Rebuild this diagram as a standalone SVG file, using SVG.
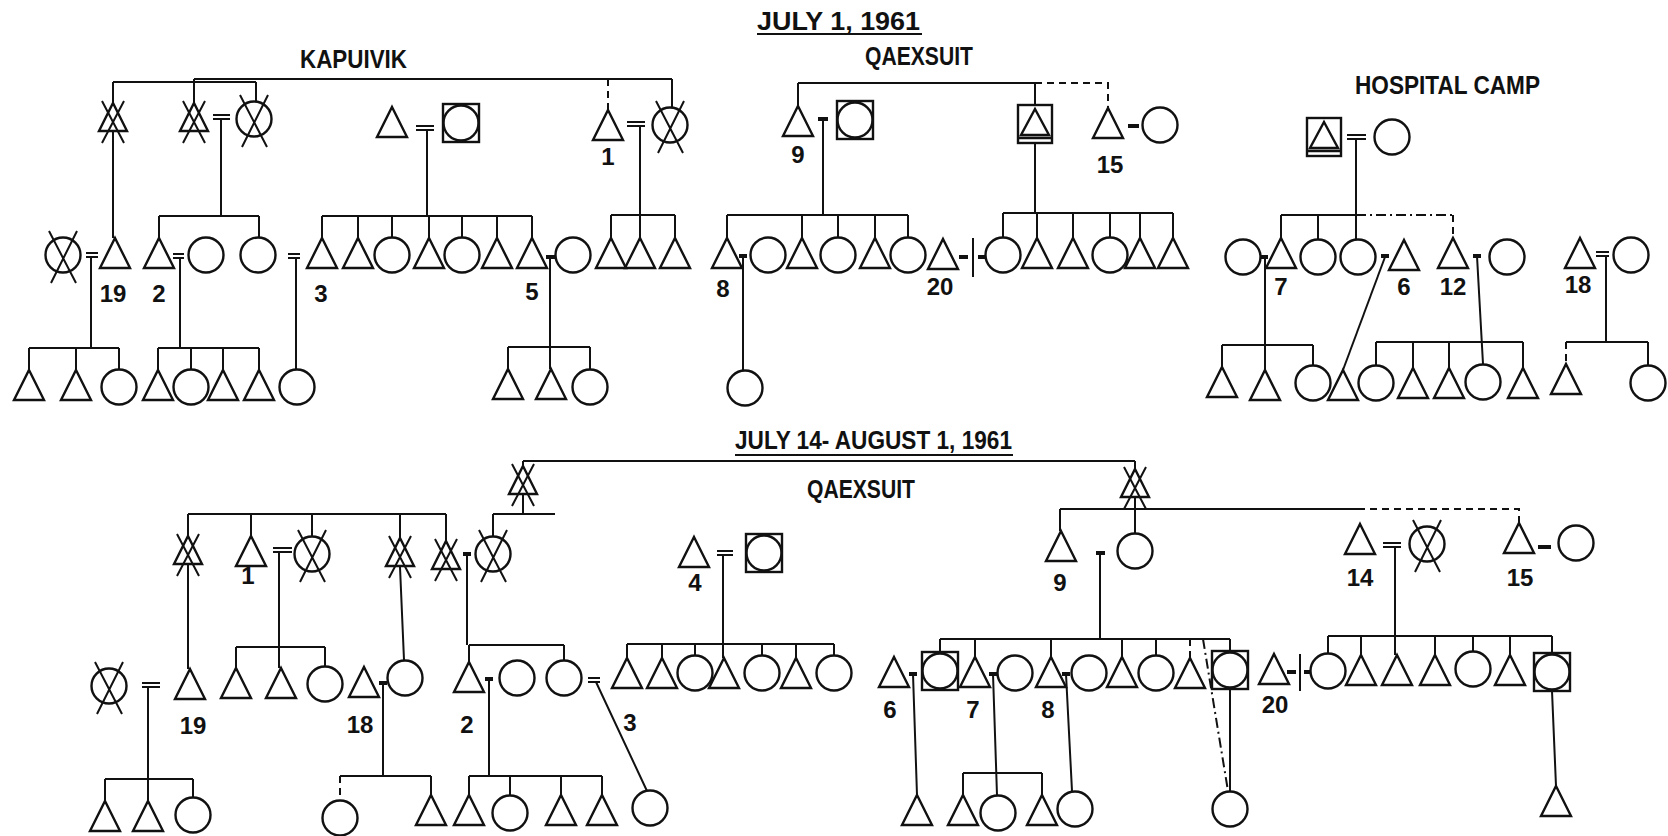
<svg xmlns="http://www.w3.org/2000/svg" width="1668" height="836" viewBox="0 0 1668 836">
<style>
.l{fill:none;stroke:#111;stroke-width:2}
.ds{stroke-dasharray:7 5}
.dd{stroke-dasharray:10 4 2 4}
.b{fill:none;stroke:#111;stroke-width:4}
.lab{font-family:"Liberation Sans",Arial,sans-serif;font-weight:bold;font-size:24px;fill:#111;text-anchor:middle}
.ttl{font-family:"Liberation Sans",Arial,sans-serif;font-weight:bold;font-size:25px;fill:#111}
</style>
<defs>
<g id="cir" fill="none" stroke="#111" stroke-width="2.4"><circle r="17.5"/></g>
<g id="xcir" fill="none" stroke="#111" stroke-width="2.4"><circle r="17.5"/><path stroke-width="2" d="M-14,-24 L13,28 M14,-24 L-12,28"/></g>
<g id="sqc" fill="none" stroke="#111" stroke-width="2.4"><rect x="-18" y="-19" width="36" height="38"/><circle r="17.5"/></g>
<g id="sqt" fill="none" stroke="#111" stroke-width="2.4"><rect x="-17" y="-19" width="34" height="38"/><path d="M0,-15 L14,11 L-14,11 Z M-17,14 H17"/></g>
<g id="tri" fill="none" stroke="#111" stroke-width="2.4"><path d="M0,0 L15,30 L-15,30 Z"/></g>
<g id="xtri" fill="none" stroke="#111" stroke-width="2.4"><path d="M0,0 L14,28 L-14,28 Z"/><path stroke-width="2" d="M-11,-2 L11,40 M11,-2 L-11,40"/></g>
</defs>
<rect width="1668" height="836" fill="#fff"/>

<g id="titles">
<text class="ttl" x="757" y="30" font-size="27" textLength="163" lengthAdjust="spacingAndGlyphs">JULY  1,  1961</text>
<path class="l" stroke-width="2.5" d="M757,34 H922"/>
<text class="ttl" x="300" y="68" textLength="107" lengthAdjust="spacingAndGlyphs">KAPUIVIK</text>
<text class="ttl" x="865" y="65" textLength="108" lengthAdjust="spacingAndGlyphs">QAEXSUIT</text>
<text class="ttl" x="1355" y="94" textLength="185" lengthAdjust="spacingAndGlyphs">HOSPITAL  CAMP</text>
<text class="ttl" x="735" y="449" textLength="277" lengthAdjust="spacingAndGlyphs">JULY  14- AUGUST  1,  1961</text>
<path class="l" stroke-width="2.5" d="M735,455 H1013"/>
<text class="ttl" x="807" y="498" textLength="108" lengthAdjust="spacingAndGlyphs">QAEXSUIT</text>
</g>

<g id="connectors">
<!-- TOP: Kapuivik -->
<path class="l" d="M194,79 H672 M194,79 V103 M113,82 H256 M113,82 V103 M256,82 V101 M672,79 V107 M113,131 V238"/>
<path class="l ds" d="M608,79 V110"/>
<path class="l" d="M213,115 H230 M213,119 H230 M221,119 V216"/>
<path class="l" d="M159,216 H259 M159,216 V238 M259,216 V237"/>
<path class="l" d="M416,126 H434 M416,130 H434 M427,130 V216"/>
<path class="l" d="M322,216 H532 M322,216 V238 M358,216 V238 M392,216 V237 M429,216 V238 M462,216 V237 M497,216 V238 M532,216 V238"/>
<path class="l" d="M627,122 H645 M627,126 H645 M640,126 V238 M611,215 H675 M611,215 V238 M675,215 V238"/>
<path class="l" d="M86,253 H98 M86,257 H98 M91,257 V348 M29,348 H119 M29,348 V370 M76,348 V370 M119,348 V369"/>
<path class="l" d="M173,254 H184 M173,258 H184 M180,258 V348 M158,348 H259 M158,348 V370 M191,348 V369 M223,348 V370 M259,348 V370"/>
<path class="l" d="M288,254 H300 M288,258 H300 M296,258 V369"/>
<path class="b" d="M546,257 H555"/>
<path class="l" d="M550,257 V369 M508,347 H590 M508,347 V369 M590,347 V369"/>
<!-- TOP: Qaexsuit -->
<path class="l" d="M798,83 H1035 M798,83 V106 M1035,83 V105 M1035,143 V213"/>
<path class="l ds" d="M1035,83 H1108 V108"/>
<path class="b" d="M818,119 H828"/>
<path class="l" d="M823,119 V215 M727,215 H908 M727,215 V238 M802,215 V238 M838,215 V237 M875,215 V238 M908,215 V237"/>
<path class="b" d="M739,256 H747"/>
<path class="l" d="M743,256 V370"/>
<path class="b" d="M1128,126 H1139"/>
<path class="b" d="M959,257 H968 M978,257 H986"/>
<path class="l" d="M973,238 V277"/>
<path class="l" d="M1003,213 H1173 M1003,213 V237 M1037,213 V238 M1073,213 V238 M1110,213 V237 M1140,213 V238 M1173,213 V238"/>
<!-- TOP: Hospital camp -->
<path class="l" d="M1347,135 H1366 M1347,139 H1366 M1356,139 V239 M1281,215 H1356 M1281,215 V238 M1318,215 V239"/>
<path class="l dd" d="M1356,215 H1453"/>
<path class="l ds" d="M1453,215 V238"/>
<path class="b" d="M1260,257 H1268 M1381,256 H1389 M1473,256 H1481"/>
<path class="l" d="M1265,257 V370 M1222,345 H1313 M1222,345 V367 M1313,345 V365"/>
<path class="l" d="M1385,257 L1343,370"/>
<path class="l" d="M1477,256 L1483,364 M1376,342 H1523 M1376,342 V365 M1413,342 V368 M1449,342 V368 M1523,342 V368"/>
<path class="l" d="M1596,252 H1609 M1596,256 H1609 M1606,256 V342 M1566,342 H1648 M1648,342 V365"/>
<path class="l ds" d="M1566,342 V364"/>

<!-- BOTTOM -->
<path class="l" d="M523,461 H1135 M523,461 V466 M523,495 V514 M493,514 H555 M493,514 V536"/>
<path class="l" d="M188,514 H446 M188,514 V536 M251,514 V536 M312,514 V536 M400,514 V538 M446,514 V541"/>
<path class="l" d="M273,548 H292 M273,552 H292 M279,552 V668 M236,647 H325 M236,647 V668 M325,647 V666"/>
<path class="l" d="M188,565 V669 M400,567 L404,660"/>
<path class="b" d="M463,554 H471"/>
<path class="l" d="M467,554 V645 M469,645 H564 M469,645 V662 M564,645 V660"/>
<path class="l" d="M142,683 H160 M142,687 H160 M148,687 V801 M105,779 H193 M105,779 V801 M193,779 V797"/>
<path class="b" d="M379,683 H387 M485,679 H493"/>
<path class="l" d="M383,683 V776 M340,776 H431 M431,776 V795"/>
<path class="l ds" d="M340,776 V800"/>
<path class="l" d="M489,679 V776 M469,776 H602 M469,776 V795 M510,776 V795 M561,776 V795 M602,776 V795"/>
<path class="l" d="M588,678 H600 M588,682 H600 M596,682 L647,791"/>
<path class="l" d="M717,551 H733 M717,555 H733 M723,555 V658 M627,644 H834 M627,644 V658 M662,644 V658 M695,644 V655 M762,644 V655 M796,644 V658 M834,644 V655"/>
<path class="l" d="M1135,461 V469 M1135,497 V533"/>
<path class="l" d="M1060,509 H1358 M1060,509 V531"/>
<path class="l ds" d="M1358,509 H1519 V523"/>
<path class="b" d="M1096,553 H1105"/>
<path class="l" d="M1100,553 V639 M940,639 H1230 M940,639 V652 M975,639 V657 M1051,639 V657 M1122,639 V657 M1156,639 V655 M1230,639 V651"/>
<path class="l ds" d="M1190,639 V658"/>
<path class="l dd" d="M1203,639 L1228,791"/>
<path class="b" d="M909,674 H917 M989,674 H997 M1062,674 H1070"/>
<path class="l" d="M913,674 L917,795 M993,674 L997,795 M963,773 H1042 M963,773 V795 M1042,773 V795 M1066,674 L1072,791 M1230,689 V791"/>
<path class="l" d="M1383,543 H1401 M1383,547 H1401 M1395,547 V655"/>
<path class="b" d="M1538,547 H1551 M1287,672 H1296 M1304,672 H1310"/>
<path class="l" d="M1300,654 V691"/>
<path class="l" d="M1328,636 H1552 M1328,636 V653 M1361,636 V655 M1435,636 V655 M1473,636 V651 M1510,636 V655 M1552,636 V653 M1552,691 L1556,786"/>
</g>

<!-- TOP Kapuivik nodes -->
<g id="k-gf1"><use href="#xtri" x="113" y="103"/></g>
<g id="k-gf2"><use href="#xtri" x="194" y="103"/></g>
<g id="k-gm2"><use href="#xcir" x="254" y="119"/></g>
<g id="k-m4"><use href="#tri" x="392" y="107"/></g>
<g id="k-w4"><use href="#sqc" x="461" y="123"/></g>
<g id="k-p1"><use href="#tri" x="608" y="110"/><text class="lab" x="608" y="165">1</text></g>
<g id="k-w1"><use href="#xcir" x="670" y="125"/></g>
<g id="k-w19"><use href="#xcir" x="63" y="255"/></g>
<g id="k-p19"><use href="#tri" x="115" y="238"/><text class="lab" x="113" y="302">19</text></g>
<g id="k-p2"><use href="#tri" x="159" y="238"/><text class="lab" x="159" y="302">2</text></g>
<g id="k-w2"><use href="#cir" x="206" y="255"/></g>
<g id="k-s2"><use href="#cir" x="258" y="255"/></g>
<g id="k-p3"><use href="#tri" x="322" y="238"/><text class="lab" x="321" y="302">3</text></g>
<g id="k-c4a"><use href="#tri" x="358" y="238"/></g>
<g id="k-c4b"><use href="#cir" x="392" y="255"/></g>
<g id="k-c4c"><use href="#tri" x="429" y="238"/></g>
<g id="k-c4d"><use href="#cir" x="462" y="255"/></g>
<g id="k-c4e"><use href="#tri" x="497" y="238"/></g>
<g id="k-p5"><use href="#tri" x="532" y="238"/><text class="lab" x="532" y="300">5</text></g>
<g id="k-w5"><use href="#cir" x="573" y="255"/></g>
<g id="k-c1a"><use href="#tri" x="611" y="238"/></g>
<g id="k-c1b"><use href="#tri" x="640" y="238"/></g>
<g id="k-c1c"><use href="#tri" x="675" y="238"/></g>
<g id="k-g19a"><use href="#tri" x="29" y="370"/></g>
<g id="k-g19b"><use href="#tri" x="76" y="370"/></g>
<g id="k-g19c"><use href="#cir" x="119" y="387"/></g>
<g id="k-g2a"><use href="#tri" x="158" y="370"/></g>
<g id="k-g2b"><use href="#cir" x="191" y="387"/></g>
<g id="k-g2c"><use href="#tri" x="223" y="370"/></g>
<g id="k-g2d"><use href="#tri" x="259" y="370"/></g>
<g id="k-g3a"><use href="#cir" x="297" y="387"/></g>
<g id="k-g5a"><use href="#tri" x="508" y="369"/></g>
<g id="k-g5b"><use href="#tri" x="551" y="369"/></g>
<g id="k-g5c"><use href="#cir" x="590" y="387"/></g>

<!-- TOP Qaexsuit nodes -->
<g id="q-p9"><use href="#tri" x="798" y="106"/><text class="lab" x="798" y="163">9</text></g>
<g id="q-w9"><use href="#sqc" x="855" y="120"/></g>
<g id="q-m"><use href="#sqt" x="1035" y="124"/></g>
<g id="q-p15"><use href="#tri" x="1108" y="108"/><text class="lab" x="1110" y="173">15</text></g>
<g id="q-w15"><use href="#cir" x="1160" y="125"/></g>
<g id="q-p8"><use href="#tri" x="727" y="238"/><text class="lab" x="723" y="297">8</text></g>
<g id="q-w8"><use href="#cir" x="768" y="255"/></g>
<g id="q-c9a"><use href="#tri" x="802" y="238"/></g>
<g id="q-c9b"><use href="#cir" x="838" y="255"/></g>
<g id="q-c9c"><use href="#tri" x="875" y="238"/></g>
<g id="q-c9d"><use href="#cir" x="908" y="255"/></g>
<g id="q-p20"><use href="#tri" x="943" y="239"/><text class="lab" x="940" y="295">20</text></g>
<g id="q-cma"><use href="#cir" x="1003" y="255"/></g>
<g id="q-cmb"><use href="#tri" x="1037" y="238"/></g>
<g id="q-cmc"><use href="#tri" x="1073" y="238"/></g>
<g id="q-cmd"><use href="#cir" x="1110" y="255"/></g>
<g id="q-cme"><use href="#tri" x="1140" y="238"/></g>
<g id="q-cmf"><use href="#tri" x="1173" y="238"/></g>
<g id="q-g8a"><use href="#cir" x="745" y="388"/></g>

<!-- TOP Hospital camp nodes -->
<g id="h-m"><use href="#sqt" x="1324" y="137"/></g>
<g id="h-w"><use href="#cir" x="1392" y="137"/></g>
<g id="h-w7"><use href="#cir" x="1243" y="257"/></g>
<g id="h-p7"><use href="#tri" x="1281" y="238"/><text class="lab" x="1281" y="295">7</text></g>
<g id="h-ca"><use href="#cir" x="1318" y="257"/></g>
<g id="h-cb"><use href="#cir" x="1358" y="257"/></g>
<g id="h-p6"><use href="#tri" x="1404" y="240"/><text class="lab" x="1404" y="295">6</text></g>
<g id="h-p12"><use href="#tri" x="1453" y="238"/><text class="lab" x="1453" y="295">12</text></g>
<g id="h-w12"><use href="#cir" x="1507" y="257"/></g>
<g id="h-p18"><use href="#tri" x="1580" y="238"/><text class="lab" x="1578" y="293">18</text></g>
<g id="h-w18"><use href="#cir" x="1631" y="255"/></g>
<g id="h-g7a"><use href="#tri" x="1222" y="367"/></g>
<g id="h-g7b"><use href="#tri" x="1265" y="370"/></g>
<g id="h-g7c"><use href="#cir" x="1313" y="383"/></g>
<g id="h-g6a"><use href="#tri" x="1343" y="370"/></g>
<g id="h-g12a"><use href="#cir" x="1376" y="383"/></g>
<g id="h-g12b"><use href="#tri" x="1413" y="368"/></g>
<g id="h-g12c"><use href="#tri" x="1449" y="368"/></g>
<g id="h-g12d"><use href="#cir" x="1483" y="382"/></g>
<g id="h-g12e"><use href="#tri" x="1523" y="368"/></g>
<g id="h-g18a"><use href="#tri" x="1566" y="364"/></g>
<g id="h-g18b"><use href="#cir" x="1648" y="383"/></g>

<!-- BOTTOM nodes -->
<g id="b-top1"><use href="#xtri" x="523" y="466"/></g>
<g id="b-x1"><use href="#xtri" x="188" y="536"/></g>
<g id="b-p1"><use href="#tri" x="251" y="536"/><text class="lab" x="248" y="584">1</text></g>
<g id="b-w1"><use href="#xcir" x="312" y="554"/></g>
<g id="b-x2"><use href="#xtri" x="400" y="538"/></g>
<g id="b-x3"><use href="#xtri" x="446" y="541"/></g>
<g id="b-x4"><use href="#xcir" x="493" y="554"/></g>
<g id="b-p4"><use href="#tri" x="694" y="537"/><text class="lab" x="695" y="591">4</text></g>
<g id="b-w4"><use href="#sqc" x="764" y="553"/></g>
<g id="b-w19"><use href="#xcir" x="109" y="686"/></g>
<g id="b-p19"><use href="#tri" x="190" y="669"/><text class="lab" x="193" y="734">19</text></g>
<g id="b-c1a"><use href="#tri" x="236" y="668"/></g>
<g id="b-c1b"><use href="#tri" x="281" y="668"/></g>
<g id="b-c1c"><use href="#cir" x="325" y="684"/></g>
<g id="b-p18"><use href="#tri" x="364" y="667"/><text class="lab" x="360" y="733">18</text></g>
<g id="b-w18"><use href="#cir" x="405" y="678"/></g>
<g id="b-p2"><use href="#tri" x="469" y="662"/><text class="lab" x="467" y="733">2</text></g>
<g id="b-w2"><use href="#cir" x="517" y="678"/></g>
<g id="b-s2"><use href="#cir" x="564" y="678"/><text class="lab" x="630" y="731">3</text></g>
<g id="b-c4a"><use href="#tri" x="627" y="658"/></g>
<g id="b-c4b"><use href="#tri" x="662" y="658"/></g>
<g id="b-c4c"><use href="#cir" x="695" y="673"/></g>
<g id="b-c4d"><use href="#tri" x="724" y="658"/></g>
<g id="b-c4e"><use href="#cir" x="762" y="673"/></g>
<g id="b-c4f"><use href="#tri" x="796" y="658"/></g>
<g id="b-c4g"><use href="#cir" x="834" y="673"/></g>
<g id="b-g19a"><use href="#tri" x="105" y="801"/></g>
<g id="b-g19b"><use href="#tri" x="148" y="801"/></g>
<g id="b-g19c"><use href="#cir" x="193" y="815"/></g>
<g id="b-g18a"><use href="#cir" x="340" y="818"/></g>
<g id="b-g18b"><use href="#tri" x="431" y="795"/></g>
<g id="b-g2a"><use href="#tri" x="469" y="795"/></g>
<g id="b-g2b"><use href="#cir" x="510" y="813"/></g>
<g id="b-g2c"><use href="#tri" x="561" y="795"/></g>
<g id="b-g2d"><use href="#tri" x="602" y="795"/></g>
<g id="b-g3a"><use href="#cir" x="650" y="808"/></g>
<g id="b-top2"><use href="#xtri" x="1135" y="469"/></g>
<g id="b-p9"><use href="#tri" x="1061" y="531"/><text class="lab" x="1060" y="591">9</text></g>
<g id="b-w9"><use href="#cir" x="1135" y="551"/></g>
<g id="b-p14"><use href="#tri" x="1360" y="524"/><text class="lab" x="1360" y="586">14</text></g>
<g id="b-w14"><use href="#xcir" x="1427" y="544"/></g>
<g id="b-p15"><use href="#tri" x="1519" y="523"/><text class="lab" x="1520" y="586">15</text></g>
<g id="b-w15"><use href="#cir" x="1576" y="543"/></g>
<g id="b-p6"><use href="#tri" x="894" y="657"/><text class="lab" x="890" y="718">6</text></g>
<g id="b-c9a"><use href="#sqc" x="940" y="671"/></g>
<g id="b-p7"><use href="#tri" x="975" y="657"/><text class="lab" x="973" y="718">7</text></g>
<g id="b-w7"><use href="#cir" x="1015" y="673"/></g>
<g id="b-p8"><use href="#tri" x="1051" y="657"/><text class="lab" x="1048" y="718">8</text></g>
<g id="b-w8"><use href="#cir" x="1089" y="673"/></g>
<g id="b-c9b"><use href="#tri" x="1122" y="657"/></g>
<g id="b-c9c"><use href="#cir" x="1156" y="673"/></g>
<g id="b-c9d"><use href="#tri" x="1190" y="658"/></g>
<g id="b-c9e"><use href="#sqc" x="1230" y="670"/></g>
<g id="b-p20"><use href="#tri" x="1274" y="654"/><text class="lab" x="1275" y="713">20</text></g>
<g id="b-c14a"><use href="#cir" x="1328" y="671"/></g>
<g id="b-c14b"><use href="#tri" x="1361" y="655"/></g>
<g id="b-c14c"><use href="#tri" x="1397" y="655"/></g>
<g id="b-c14d"><use href="#tri" x="1435" y="655"/></g>
<g id="b-c14e"><use href="#cir" x="1473" y="669"/></g>
<g id="b-c14f"><use href="#tri" x="1510" y="655"/></g>
<g id="b-c14g"><use href="#sqc" x="1552" y="672"/></g>
<g id="b-g6a"><use href="#tri" x="917" y="795"/></g>
<g id="b-g7a"><use href="#tri" x="963" y="795"/></g>
<g id="b-g7b"><use href="#cir" x="998" y="813"/></g>
<g id="b-g7c"><use href="#tri" x="1042" y="795"/></g>
<g id="b-g8a"><use href="#cir" x="1075" y="809"/></g>
<g id="b-g9a"><use href="#cir" x="1230" y="809"/></g>
<g id="b-g14a"><use href="#tri" x="1556" y="786"/></g>
</svg>
